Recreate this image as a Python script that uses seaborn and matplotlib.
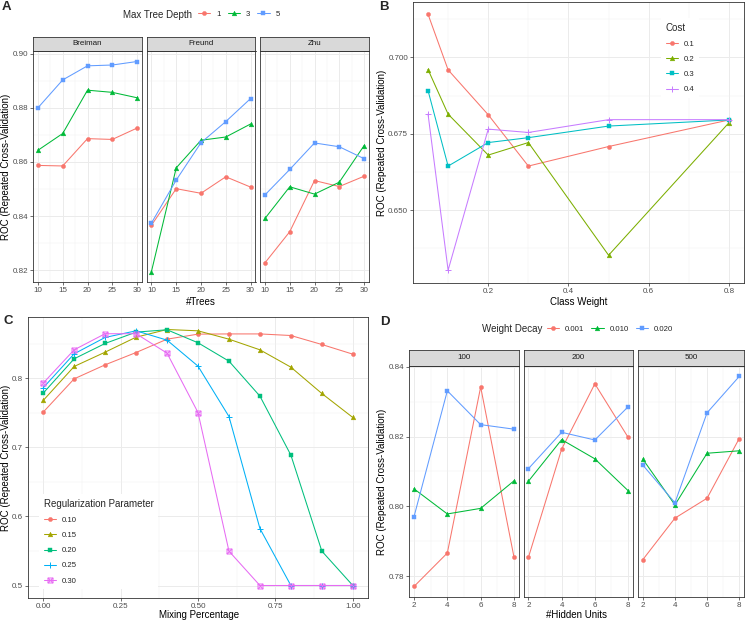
import numpy as np
import pandas as pd
import matplotlib.pyplot as plt
import seaborn as sns
from matplotlib.lines import Line2D
from matplotlib.path import Path
from matplotlib.ticker import FormatStrFormatter

# A: boosted trees, one facet per method, one line per max tree depth
trees = [10, 15, 20, 25, 30]
depth_levels = ["1", "3", "5"]
method_names = ["Breiman", "Freund", "Zhu"]
breiman_roc = [[0.8587, 0.8585, 0.8686, 0.8683, 0.8725],
               [0.8643, 0.8705, 0.8865, 0.8857, 0.8837],
               [0.8800, 0.8903, 0.8955, 0.8958, 0.8971]]
freund_roc = [[0.8366, 0.8501, 0.8484, 0.8545, 0.8507],
              [0.8195, 0.8578, 0.8680, 0.8692, 0.8740],
              [0.8374, 0.8533, 0.8671, 0.8749, 0.8834]]
zhu_roc = [[0.8227, 0.8342, 0.8531, 0.8509, 0.8547],
           [0.8391, 0.8508, 0.8481, 0.8525, 0.8660],
           [0.8478, 0.8572, 0.8670, 0.8656, 0.8612]]
a_yticks = [0.82, 0.84, 0.86, 0.88, 0.90]

# B: cost sensitive model
class_weight = [0.05, 0.1, 0.2, 0.3, 0.5, 0.8]
cost_levels = ["0.1", "0.2", "0.3", "0.4"]
cost_roc = [[0.7141, 0.6959, 0.6812, 0.6644, 0.6708, 0.6795],
            [0.6960, 0.6814, 0.6680, 0.6721, 0.6352, 0.6786],
            [0.6891, 0.6644, 0.6721, 0.6737, 0.6775, 0.6795],
            [0.6814, 0.6303, 0.6765, 0.6754, 0.6796, 0.6796]]
b_xticks = [0.2, 0.4, 0.6, 0.8]
b_yticks = [0.650, 0.675, 0.700]

# C: elastic net
mixing = [0.0, 0.1, 0.2, 0.3, 0.4, 0.5, 0.6, 0.7, 0.8, 0.9, 1.0]
reg_levels = ["0.10", "0.15", "0.20", "0.25", "0.30"]
reg_roc = [[0.7508, 0.7990, 0.8193, 0.8371, 0.8564, 0.8637, 0.8640, 0.8640, 0.8617, 0.8487, 0.8347],
           [0.7677, 0.8169, 0.8376, 0.8593, 0.8704, 0.8685, 0.8564, 0.8410, 0.8159, 0.7778, 0.7431],
           [0.7783, 0.8280, 0.8502, 0.8666, 0.8700, 0.8512, 0.8246, 0.7740, 0.6886, 0.5497, 0.5000],
           [0.7860, 0.8352, 0.8589, 0.8685, 0.8550, 0.8174, 0.7445, 0.5824, 0.5000, 0.5000, 0.5000],
           [0.7928, 0.8410, 0.8643, 0.8643, 0.8362, 0.7503, 0.5497, 0.5000, 0.5000, 0.5000, 0.5000]]
c_xticks = [0.0, 0.25, 0.5, 0.75, 1.0]
c_yticks = [0.5, 0.6, 0.7, 0.8]

# D: neural net, one facet per size, one line per weight decay
hidden_units = [2, 4, 6, 8]
decay_levels = ["0.001", "0.010", "0.020"]
size_names = ["100", "200", "500"]
size100_roc = [[0.7770, 0.7866, 0.8342, 0.7854],
               [0.8050, 0.7978, 0.7994, 0.8073],
               [0.7970, 0.8331, 0.8234, 0.8221]]
size200_roc = [[0.7854, 0.8164, 0.8351, 0.8198],
               [0.8072, 0.8191, 0.8136, 0.8045],
               [0.8108, 0.8212, 0.8190, 0.8285]]
size500_roc = [[0.7847, 0.7966, 0.8023, 0.8194],
               [0.8135, 0.8004, 0.8152, 0.8159],
               [0.8118, 0.8010, 0.8268, 0.8372]]
d_yticks = [0.78, 0.80, 0.82, 0.84]

sns.set_style("white")
plt.rcParams["font.family"] = ["Liberation Sans", "DejaVu Sans"]

W, H = 746, 621
fig = plt.figure(figsize=(W / 100, H / 100), dpi=100)

pal3 = ["#F8766D", "#00BA38", "#619CFF"]
pal4 = ["#F8766D", "#7CAE00", "#00BFC4", "#C77CFF"]
pal5 = ["#F8766D", "#A3A500", "#00BF7D", "#00B0F6", "#E76BF3"]

# ggplot shape 7 (square with a cross in it)
square_cross = Path([(-1, -1), (1, -1), (1, 1), (-1, 1), (-1, -1),
                     (-1, -1), (1, 1), (-1, 1), (1, -1)],
                    [Path.MOVETO, Path.LINETO, Path.LINETO, Path.LINETO, Path.CLOSEPOLY,
                     Path.MOVETO, Path.LINETO, Path.MOVETO, Path.LINETO])
marks = ["o", "^", "s", "+", square_cross]
msizes = {"o": 3.0, "^": 3.4, "s": 2.8, "+": 4.6}


def line_kws(color, marker):
    filled = isinstance(marker, str) and marker in ("o", "^", "s")
    size = msizes.get(marker, 3.6) if isinstance(marker, str) else 3.6
    return dict(color=color, marker=marker, markersize=size, markeredgecolor=color,
                markerfacecolor=color if filled else "none",
                markeredgewidth=0.3 if filled else 0.7, linewidth=0.75)


def add_ax(x0, y0, x1, y1):
    return fig.add_axes([x0 / W, 1 - y1 / H, (x1 - x0) / W, (y1 - y0) / H])


def draw(ax, x, series, levels, colors):
    df = pd.DataFrame({"x": np.tile(x, len(levels)),
                       "roc": np.concatenate(series),
                       "level": np.repeat(levels, len(x))})
    for lev, c, m in zip(levels, colors, marks):
        sns.lineplot(data=df[df["level"] == lev], x="x", y="roc", ax=ax,
                     errorbar=None, legend=False, **line_kws(c, m))
    ax.set_xlabel("")
    ax.set_ylabel("")


def padded(vals):
    lo, hi = float(np.min(vals)), float(np.max(vals))
    return lo - 0.05 * (hi - lo), hi + 0.05 * (hi - lo)


def minors(major, lim):
    step = major[1] - major[0]
    cand = np.arange(major[0] - step / 2, major[-1] + step, step)
    return [c for c in cand if lim[0] <= c <= lim[1]]


def style(ax, xlim, ylim, xt, yt, xfmt, yfmt, show_y=True):
    ax.set_xticks(xt)
    ax.set_yticks(yt)
    ax.set_xticks(minors(xt, xlim), minor=True)
    ax.set_yticks(minors(yt, ylim), minor=True)
    ax.set_xlim(xlim)
    ax.set_ylim(ylim)
    ax.xaxis.set_major_formatter(FormatStrFormatter(xfmt))
    ax.yaxis.set_major_formatter(FormatStrFormatter(yfmt))
    ax.grid(True, which="major", color="#EBEBEB", linewidth=0.7)
    ax.grid(True, which="minor", color="#F0F0F0", linewidth=0.35)
    ax.set_axisbelow(True)
    ax.tick_params(which="minor", length=0)
    ax.tick_params(which="major", length=2.0, width=0.5, color="#333333",
                   labelsize=5.8, labelcolor="#4D4D4D", pad=1.5,
                   bottom=True, left=show_y, labelleft=show_y)
    for s in ax.spines.values():
        s.set_color("#333333")
        s.set_linewidth(0.6)


def strip(x0, x1, y0, y1, label):
    s = add_ax(x0, y0, x1, y1)
    s.set_facecolor("#D9D9D9")
    s.set_xticks([])
    s.set_yticks([])
    for sp in s.spines.values():
        sp.set_color("#333333")
        sp.set_linewidth(0.6)
    s.text(0.5, 0.5, label, transform=s.transAxes, ha="center", va="center",
           fontsize=5.8, color="#1A1A1A")


def handles(colors):
    return [Line2D([], [], **line_kws(c, m)) for c, m in zip(colors, marks)]


def label(x, y, text, rot=0, size=7.0, **kw):
    fig.text(x / W, 1 - y / H, text, ha="center", va="center", rotation=rot,
             fontsize=size, color="black", **kw)


ylab = "ROC (Repeated Cross-Validation)"

# ---- panel A
a_series = [breiman_roc, freund_roc, zhu_roc]
a_ylim = padded(np.array(a_series).ravel())
a_cols = [(33, 142), (146.5, 255.5), (260, 369)]
for i, (name, series, (x0, x1)) in enumerate(zip(method_names, a_series, a_cols)):
    ax = add_ax(x0, 51, x1, 282)
    draw(ax, trees, series, depth_levels, pal3)
    style(ax, padded(trees), a_ylim, trees, a_yticks, "%d", "%.2f", show_y=(i == 0))
    strip(x0, x1, 36.5, 51, name)
label(201, 302, "#Trees")
label(6, 166.5, ylab, rot=90)
fig.text(123 / W, 1 - 14.5 / H, "Max Tree Depth", ha="left", va="center", fontsize=7.0)
fig.legend(handles(pal3), depth_levels, loc="center left", bbox_to_anchor=(198 / W, 1 - 14.5 / H),
           ncol=3, frameon=False, fontsize=5.6, handlelength=1.6, handletextpad=0.75,
           columnspacing=0.9, borderpad=0, borderaxespad=0)

# ---- panel B
ax = add_ax(413, 1.5, 744, 283)
draw(ax, class_weight, cost_roc, cost_levels, pal4)
style(ax, padded(class_weight), padded(cost_roc), b_xticks, b_yticks, "%.1f", "%.3f")
label(579, 302, "Class Weight")
label(382.5, 142.5, ylab, rot=90)
lg = ax.legend(handles(pal4), cost_levels, title="Cost", loc="upper left",
               bbox_to_anchor=(657 / W, 1 - 14 / H), bbox_transform=fig.transFigure,
               fontsize=5.6, title_fontsize=7.0, handlelength=1.6, handletextpad=0.75,
               labelspacing=1.0, borderpad=0.6, frameon=True, fancybox=False,
               framealpha=1, alignment="left")
lg.get_frame().set_edgecolor("none")
lg.get_frame().set_facecolor("white")

# ---- panel C
ax = add_ax(27.7, 316.7, 368.3, 598.3)
draw(ax, mixing, reg_roc, reg_levels, pal5)
style(ax, padded(mixing), padded(reg_roc), c_xticks, c_yticks, "%.2f", "%.1f")
label(199, 615, "Mixing Percentage")
label(6, 457.5, ylab, rot=90)
lg = ax.legend(handles(pal5), reg_levels, title="Regularization Parameter", loc="upper left",
               bbox_to_anchor=(35 / W, 1 - 490 / H), bbox_transform=fig.transFigure,
               fontsize=5.6, title_fontsize=7.0, handlelength=1.6, handletextpad=0.75,
               labelspacing=1.0, borderpad=0.6, frameon=True, fancybox=False,
               framealpha=1, alignment="left")
lg.get_frame().set_edgecolor("none")
lg.get_frame().set_facecolor("white")

# ---- panel D
d_series = [size100_roc, size200_roc, size500_roc]
d_ylim = padded(np.array(d_series).ravel())
d_cols = [(409, 519), (523.5, 633), (638, 744)]
for i, (name, series, (x0, x1)) in enumerate(zip(size_names, d_series, d_cols)):
    ax = add_ax(x0, 366, x1, 597)
    draw(ax, hidden_units, series, decay_levels, pal3)
    style(ax, padded(hidden_units), d_ylim, hidden_units, d_yticks, "%d", "%.2f", show_y=(i == 0))
    strip(x0, x1, 349.5, 366, name)
label(576.5, 615, "#Hidden Units")
label(382.5, 481.5, ylab, rot=90)
fig.text(481.7 / W, 1 - 329 / H, "Weight Decay", ha="left", va="center", fontsize=7.0)
fig.legend(handles(pal3), decay_levels, loc="center left", bbox_to_anchor=(546.7 / W, 1 - 329 / H),
           ncol=3, frameon=False, fontsize=5.6, handlelength=1.6, handletextpad=0.75,
           columnspacing=0.9, borderpad=0, borderaxespad=0)

# panel letters
for x, y, t in [(2, 7.5, "A"), (379, 6.7, "B"), (4, 320.5, "C"), (380, 321.7, "D")]:
    fig.text(x / W, 1 - y / H, t, ha="left", va="center", fontsize=9.5, fontweight="bold")

fig.savefig("out.png", dpi=100)
